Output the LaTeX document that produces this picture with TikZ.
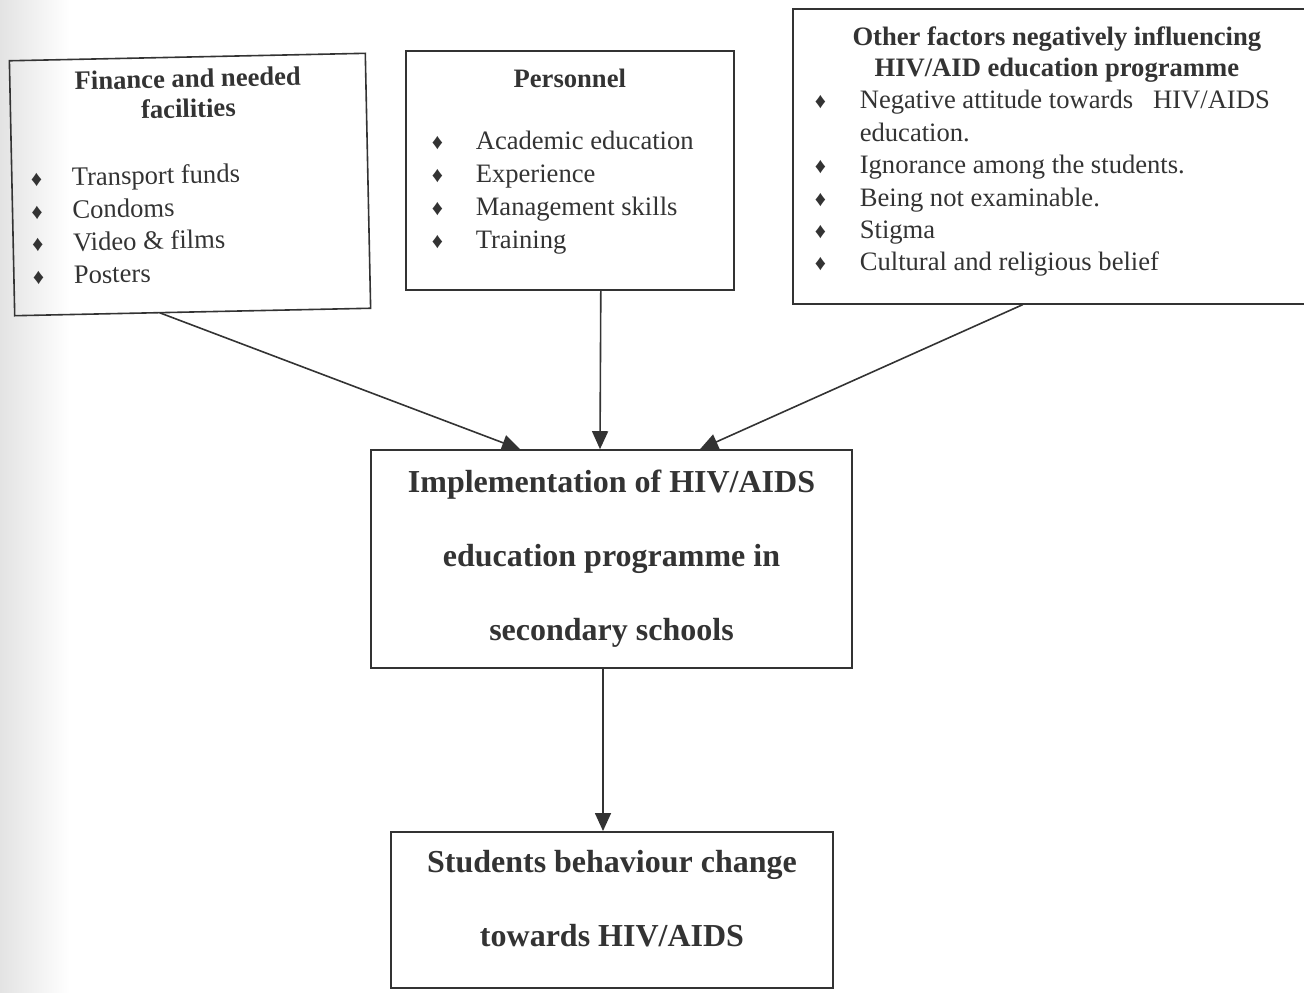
\documentclass[tikz,border=0pt]{standalone}
\usepackage{fontspec}
\setmainfont{Liberation Serif}
\usetikzlibrary{arrows.meta}

\definecolor{ink}{gray}{0.2}
\newcommand{\dmd}{{\fontsize{11}{11}\selectfont ♦}}
\tikzset{
  frame/.style={draw=ink, line width=0.8pt, inner sep=0pt, text=ink},
  link/.style={draw=ink, line width=0.8pt, -{Triangle[length=9pt,width=8pt]}}
}

\begin{document}
\begin{tikzpicture}[x=1pt, y=-1pt]
	% page, with the scanner shadow on the left
	\clip (0,0) rectangle (652,496);
	\shade[left color=gray!22, right color=white] (0,0) rectangle (35,496);

	% Factor boxes
	\node[frame, rotate=1.2] (fin) at (95,92.25) {\parbox[c][127.5pt][t]{178pt}{%
			\fontsize{13.3}{15}\selectfont\vspace*{6pt}
			{\centering\bfseries Finance and needed\\ facilities\par}
			\fontsize{13.3}{16.3}\selectfont\vspace{16.7pt}
			\foreach \t in {Transport funds, Condoms, Video \& films, Posters}
				{\par\noindent\hspace*{9.5pt}\makebox[20.5pt][l]{\dmd}\t}}};
	\node[frame, anchor=north west] (pers) at (202.5,25) {\parbox[c][119.5pt][t]{164pt}{%
			\fontsize{13.3}{15}\selectfont\vspace*{9pt}
			{\centering\bfseries Personnel\par}
			\fontsize{13.3}{16.5}\selectfont\vspace{14.5pt}
			\foreach \t in {Academic education, Experience, Management skills, Training}
				{\par\noindent\hspace*{13pt}\makebox[22pt][l]{\dmd}\t}}};
	\node[frame, anchor=north west] (other) at (396,4) {\parbox[c][147.5pt][t]{264pt}{%
			\fontsize{13.3}{15.5}\selectfont\vspace*{9pt}
			{\centering\bfseries Other factors negatively influencing\hspace{7pt}\\ HIV/AID education programme\hspace{7pt}\par}
			\fontsize{13.3}{16.2}\selectfont
			\par\noindent\hspace*{11pt}\makebox[22.5pt][l]{\dmd}Negative attitude towards\ \ \ HIV/AIDS
			\par\noindent\hspace*{33.5pt}education.
			\foreach \t in {Ignorance among the students., Being not examinable., Stigma, Cultural and religious belief}
				{\par\noindent\hspace*{11pt}\makebox[22.5pt][l]{\dmd}\t}}};

	% Programme and outcome
	\node[frame, minimum width=240.5pt, minimum height=109pt, align=center,
		font=\fontsize{16}{37}\selectfont\bfseries] (impl) at (305.75,279.5)
		{Implementation of HIV/AIDS\\ education programme in\\ secondary schools};
	\node[frame, anchor=north] (behav) at (306,415.5) {\parbox[c][78pt][t]{221pt}{%
			\fontsize{16}{37}\selectfont\bfseries\centering\vspace*{9.4pt}
			Students behaviour change\\ towards HIV/AIDS\par}};

	% Arrows
	\draw[link] ([xshift=-16.5pt]fin.south) -- ([xshift=-45.75pt]impl.north);
	\draw[link] ([xshift=15.5pt]pers.south) -- ([xshift=-5.75pt]impl.north);
	\draw[link] ([xshift=-17pt]other.south) -- ([xshift=44.25pt]impl.north);
	\draw[link] ([xshift=-4.25pt]impl.south) -- ([xshift=-4.5pt]behav.north);
\end{tikzpicture}
\end{document}
